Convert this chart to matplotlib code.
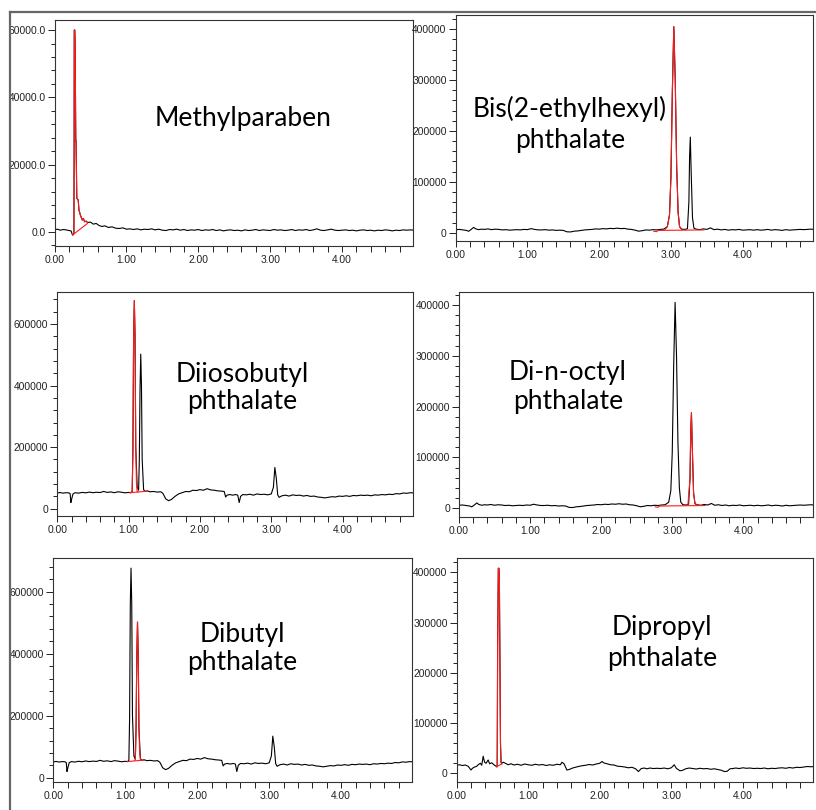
import matplotlib
matplotlib.use("Agg")
import matplotlib.pyplot as plt
from matplotlib.ticker import MultipleLocator, AutoMinorLocator, FormatStrFormatter
from matplotlib.lines import Line2D

W, H = 816, 810

# --- Methylparaben chromatogram (black trace) ---
mp_t = [0.00, 0.04, 0.08, 0.12, 0.16, 0.20, 0.23, 0.25, 0.26, 0.27, 0.273, 0.275, 0.282, 0.287,
        0.296, 0.30, 0.31, 0.33, 0.34, 0.36, 0.387, 0.40, 0.42, 0.44, 0.46, 0.50, 0.54, 0.58,
        0.62, 0.66, 0.70, 0.75, 0.80, 0.85, 0.90, 0.95, 1.00, 1.05, 1.10, 1.15, 1.20, 1.25,
        1.30, 1.35, 1.40, 1.45, 1.50, 1.55, 1.60, 1.65, 1.70, 1.75, 1.80, 1.85, 1.90, 1.95,
        2.00, 2.05, 2.10, 2.15, 2.20, 2.25, 2.30, 2.35, 2.40, 2.45, 2.50, 2.55, 2.60, 2.65,
        2.70, 2.75, 2.80, 2.85, 2.90, 2.95, 3.00, 3.05, 3.10, 3.15, 3.20, 3.25, 3.30, 3.35,
        3.40, 3.45, 3.50, 3.55, 3.60, 3.65, 3.70, 3.75, 3.80, 3.85, 3.90, 3.95, 4.00, 4.05,
        4.10, 4.15, 4.20, 4.25, 4.30, 4.35, 4.40, 4.45, 4.50, 4.55, 4.60, 4.65, 4.70, 4.75,
        4.80, 4.85, 4.90, 4.95, 5.00]
mp_y = [600, 800, 500, 700, 600, 400, 300, -900, -900, -500, 24000, 60000, 60000, 56000,
        27000, 27000, 10000, 9500, 6500, 5000, 3500, 4000, 3000, 3200, 2800, 2900, 2300, 2500,
        1900, 1600, 1800, 1300, 1500, 1100, 1000, 1200, 800, 900, 700, 900, 600, 800,
        700, 900, 600, 800, 500, 400, 700, 600, 800, 500, 700, 400, 600, 500,
        700, 400, 600, 500, 700, 400, 600, 300, 500, 600, 400, 500, 300, 600,
        400, 500, 700, 400, 600, 500, 400, 700, 500, 600, 400, 500, 700, 400,
        600, 500, 700, 400, 600, 900, 500, 400, 600, 800, 500, 400, 500, 600,
        400, 500, 300, 500, 600, 400, 500, 300, 500, 400, 600, 500, 300, 500,
        400, 600, 500, 600, 500]
# red integrated peak and its baseline
mp_red_t = [0.254, 0.27, 0.273, 0.275, 0.282, 0.287, 0.296, 0.30, 0.31, 0.33, 0.34, 0.36,
            0.387, 0.40, 0.42, 0.44, 0.457]
mp_red_y = [-900, -500, 24000, 60000, 60000, 56000, 27000, 27000, 10000, 9500, 6500, 5000,
            3500, 4000, 3000, 3200, 2800]
mp_base_t = [0.254, 0.457]
mp_base_y = [-900, 2500]

# --- phthalate chromatogram with peaks at 1.08 and 1.17 min ---
a_t = [0.00, 0.04, 0.08, 0.12, 0.16, 0.18, 0.19, 0.20, 0.22, 0.25, 0.30, 0.35, 0.40, 0.45,
       0.50, 0.55, 0.60, 0.65, 0.70, 0.75, 0.80, 0.85, 0.90, 0.95, 1.00, 1.03, 1.05, 1.06,
       1.07, 1.08, 1.09, 1.10, 1.12, 1.14, 1.15, 1.16, 1.17, 1.18, 1.19, 1.21, 1.23, 1.26,
       1.30, 1.35, 1.40, 1.45, 1.48, 1.52, 1.56, 1.60, 1.65, 1.70, 1.75, 1.80, 1.85, 1.90,
       1.95, 2.00, 2.05, 2.10, 2.15, 2.20, 2.25, 2.30, 2.34, 2.36, 2.38, 2.42, 2.46, 2.50,
       2.53, 2.55, 2.57, 2.60, 2.65, 2.70, 2.75, 2.80, 2.85, 2.90, 2.95, 3.00, 3.03, 3.05,
       3.07, 3.09, 3.11, 3.15, 3.20, 3.25, 3.30, 3.35, 3.40, 3.45, 3.50, 3.55, 3.60, 3.65,
       3.70, 3.75, 3.80, 3.85, 3.90, 3.95, 4.00, 4.05, 4.10, 4.15, 4.20, 4.25, 4.30, 4.35,
       4.40, 4.45, 4.50, 4.55, 4.60, 4.65, 4.70, 4.75, 4.80, 4.85, 4.90, 4.95, 5.00]
a_y = [51000, 52500, 50500, 52000, 51500, 49000, 20000, 30000, 48000, 52000, 50500, 53000,
       51500, 54000, 52000, 53500, 52500, 56000, 53000, 54500, 52000, 55000, 53500, 51500,
       53000, 52000, 56000, 190000, 560000, 676000, 560000, 200000, 70000, 60000, 160000,
       390000, 502000, 400000, 160000, 62000, 56000, 58000, 55000, 56000, 54000, 55000,
       50000, 32000, 26000, 30000, 40000, 48000, 52000, 56000, 55000, 60000, 59000, 62000,
       60000, 65000, 61000, 60000, 58000, 57000, 56000, 38000, 44000, 46000, 44000, 46000,
       44000, 20000, 40000, 46000, 45000, 47000, 44000, 48000, 46000, 47000, 45000, 48000,
       70000, 134000, 100000, 45000, 37000, 42000, 44000, 41000, 45000, 43000, 44000, 41000,
       43000, 40000, 41000, 38000, 37000, 35000, 37000, 39000, 38000, 41000, 40000, 42000,
       40000, 43000, 42000, 44000, 43000, 44000, 42000, 45000, 44000, 46000, 45000, 47000,
       46000, 49000, 48000, 51000, 50000, 52000, 51000]
# Diiosobutyl phthalate: first peak in red
dib_red_t = [1.02, 1.05, 1.06, 1.07, 1.08, 1.09, 1.10, 1.11, 1.12, 1.13]
dib_red_y = [52000, 55000, 190000, 560000, 676000, 560000, 200000, 80000, 56000, 54000]
dib_base_t = [1.02, 1.26]
dib_base_y = [52000, 57000]
# Dibutyl phthalate: second peak in red
dbp_red_t = [1.13, 1.14, 1.15, 1.16, 1.17, 1.18, 1.19, 1.20, 1.21]
dbp_red_y = [56000, 60000, 160000, 390000, 502000, 400000, 160000, 80000, 60000]
dbp_base_t = [1.03, 1.26]
dbp_base_y = [52000, 57000]

# --- phthalate chromatogram with peaks at 3.04 and 3.27 min ---
b_t = [0.00, 0.05, 0.10, 0.15, 0.18, 0.22, 0.25, 0.28, 0.32, 0.36, 0.40, 0.45, 0.50, 0.55,
       0.60, 0.65, 0.70, 0.75, 0.80, 0.85, 0.90, 0.95, 1.00, 1.05, 1.10, 1.15, 1.20, 1.25,
       1.30, 1.35, 1.40, 1.45, 1.50, 1.55, 1.60, 1.65, 1.70, 1.75, 1.80, 1.85, 1.90, 1.95,
       2.00, 2.05, 2.10, 2.15, 2.20, 2.25, 2.30, 2.35, 2.40, 2.45, 2.50, 2.55, 2.60, 2.65,
       2.70, 2.75, 2.80, 2.85, 2.90, 2.95, 2.98, 3.00, 3.02, 3.04, 3.06, 3.08, 3.10, 3.12,
       3.15, 3.20, 3.23, 3.25, 3.26, 3.27, 3.28, 3.30, 3.32, 3.35, 3.40, 3.45, 3.50, 3.55,
       3.60, 3.65, 3.70, 3.75, 3.80, 3.85, 3.90, 3.95, 4.00, 4.05, 4.10, 4.15, 4.20, 4.25,
       4.30, 4.35, 4.40, 4.45, 4.50, 4.55, 4.60, 4.65, 4.70, 4.75, 4.80, 4.85, 4.90, 4.95,
       5.00]
b_y = [6000, 6500, 5500, 4500, 2800, 7000, 10500, 7500, 6000, 7000, 6500, 7500, 6000, 7000,
       6500, 5500, 6000, 5000, 5500, 6000, 5500, 6500, 6000, 8000, 6500, 5500, 5500, 6000,
       5000, 5500, 4500, 5000, 4500, 1800, 1500, 3000, 3500, 4500, 5500, 6000, 6500, 7500,
       7000, 8000, 7500, 8500, 8000, 9000, 8000, 8500, 7000, 6500, 5000, 3000, 4000, 5500,
       5000, 6000, 5500, 6500, 7000, 12000, 35000, 110000, 280000, 405000, 300000, 130000,
       40000, 12000, 7000, 6500, 8000, 60000, 150000, 188000, 130000, 30000, 9000, 7000,
       6000, 7500, 6500, 9500, 6000, 7000, 5500, 6500, 5000, 6000, 5500, 6500, 5000, 5500,
       6000, 5000, 6000, 5000, 5500, 6500, 5000, 6000, 5500, 4500, 6000, 5000, 5500, 6000,
       6500, 6000, 6500, 7000, 6500]
# Bis(2-ethylhexyl) phthalate: first peak in red
deh_red_t = [2.92, 2.95, 2.98, 3.00, 3.02, 3.04, 3.06, 3.08, 3.10, 3.12, 3.15]
deh_red_y = [6500, 12000, 35000, 110000, 280000, 405000, 300000, 130000, 40000, 12000, 6000]
# Di-n-octyl phthalate: second peak in red
dno_red_t = [3.22, 3.25, 3.26, 3.27, 3.28, 3.30, 3.32, 3.35]
dno_red_y = [6500, 60000, 150000, 188000, 130000, 30000, 9000, 6000]
b_base_t = [2.76, 2.80, 2.82, 3.46]
b_base_y = [3000, 2000, 4500, 5500]

# --- Dipropyl phthalate chromatogram ---
d_t = [0.00, 0.04, 0.08, 0.12, 0.16, 0.20, 0.22, 0.25, 0.28, 0.30, 0.33, 0.35, 0.37, 0.39,
       0.41, 0.44, 0.46, 0.49, 0.52, 0.55, 0.565, 0.572, 0.582, 0.59, 0.596, 0.605, 0.612,
       0.62, 0.63, 0.65, 0.68, 0.72, 0.76, 0.80, 0.85, 0.90, 0.95, 1.00, 1.05, 1.10, 1.15,
       1.20, 1.25, 1.30, 1.35, 1.40, 1.45, 1.47, 1.50, 1.54, 1.58, 1.62, 1.66, 1.70, 1.75,
       1.80, 1.85, 1.90, 1.95, 2.00, 2.03, 2.06, 2.10, 2.15, 2.20, 2.25, 2.30, 2.35, 2.40,
       2.45, 2.50, 2.54, 2.58, 2.62, 2.66, 2.70, 2.75, 2.80, 2.85, 2.90, 2.95, 3.00, 3.04,
       3.07, 3.12, 3.16, 3.20, 3.25, 3.30, 3.35, 3.40, 3.45, 3.50, 3.55, 3.60, 3.65, 3.70,
       3.74, 3.78, 3.82, 3.86, 3.90, 3.95, 4.00, 4.05, 4.10, 4.15, 4.20, 4.25, 4.30, 4.35,
       4.40, 4.45, 4.50, 4.55, 4.60, 4.65, 4.70, 4.75, 4.80, 4.85, 4.90, 4.95, 5.00]
d_y = [16000, 17000, 15500, 16500, 14000, 6500, 10000, 12500, 14000, 17000, 20000, 16000,
       34000, 22000, 20000, 26500, 19000, 21000, 17000, 14000, 13000, 252000, 408000, 408000,
       395000, 212000, 60000, 22000, 20000, 22000, 20000, 17000, 19000, 16500, 18000, 16000,
       18500, 17000, 16000, 18000, 16500, 17500, 15500, 17000, 16000, 18000, 17000, 22000,
       19000, 6500, 8000, 10500, 12000, 13500, 15000, 16000, 17500, 16500, 18500, 20000,
       23500, 20500, 19000, 17000, 16500, 14000, 13500, 12500, 11000, 12000, 9000, 3500,
       9500, 10500, 9000, 10500, 9500, 10000, 9500, 10500, 9000, 11000, 17000, 10000, 5000,
       6000, 9000, 10500, 9500, 8500, 10000, 9000, 9500, 8000, 9000, 7500, 6000, 3500, 4000,
       9000, 9500, 10500, 9500, 11000, 10000, 10500, 9500, 10000, 9500, 10500, 9000, 10000,
       9500, 10500, 11000, 10000, 11500, 10500, 12000, 11500, 12500, 13500, 13000, 13500]
dpp_red_t = [0.56, 0.569, 0.572, 0.582, 0.59, 0.596, 0.605, 0.612, 0.62, 0.63]
dpp_red_y = [13000, 14000, 252000, 408000, 408000, 395000, 212000, 60000, 22000, 18000]
dpp_base_t = [0.56, 0.63]
dpp_base_y = [13000, 19000]

# panel layout in pixels: left, top, right, bottom
panels = [
    dict(box=(54.5, 20, 412.5, 246), ylim=(-4200, 63000), ystep=20000, yfmt="%.1f",
         t=mp_t, y=mp_y, red=[(mp_red_t, mp_red_y), (mp_base_t, mp_base_y)],
         names=["Methylparaben"], tx=243, ty=[125.7], zero_x=False),
    dict(box=(455.7, 15, 813, 241), ylim=(-16300, 428000), ystep=100000, yfmt="%d",
         t=b_t, y=b_y, red=[(deh_red_t, deh_red_y), (b_base_t, b_base_y)],
         names=["Bis(2-ethylhexyl)", "phthalate"], tx=570, ty=[116.7, 148.3], zero_x=True),
    dict(box=(57.3, 291.7, 412.5, 516), ylim=(-23700, 705000), ystep=200000, yfmt="%d",
         t=a_t, y=a_y, red=[(dib_red_t, dib_red_y), (dib_base_t, dib_base_y)],
         names=["Diiosobutyl", "phthalate"], tx=242, ty=[381.7, 409.5], zero_x=True),
    dict(box=(459, 291.7, 813, 516.7), ylim=(-16500, 426000), ystep=100000, yfmt="%d",
         t=b_t, y=b_y, red=[(dno_red_t, dno_red_y), (b_base_t, b_base_y)],
         names=["Di-n-octyl", "phthalate"], tx=568, ty=[380, 408.5], zero_x=True),
    dict(box=(53.3, 558.3, 411.7, 782.3), ylim=(-14800, 707700), ystep=200000, yfmt="%d",
         t=a_t, y=a_y, red=[(dbp_red_t, dbp_red_y), (dbp_base_t, dbp_base_y)],
         names=["Dibutyl", "phthalate"], tx=242, ty=[641.7, 670], zero_x=True),
    dict(box=(456.7, 558.3, 813, 782.3), ylim=(-17900, 427900), ystep=100000, yfmt="%d",
         t=d_t, y=d_y, red=[(dpp_red_t, dpp_red_y), (dpp_base_t, dpp_base_y)],
         names=["Dipropyl", "phthalate"], tx=662, ty=[635, 666], zero_x=True),
]

tick_font = ["Liberation Sans Narrow", "Liberation Sans"]

fig = plt.figure(figsize=(W / 100, H / 100), dpi=100)

for p in panels:
    l, t, r, b = p["box"]
    ax = fig.add_axes([l / W, 1 - b / H, (r - l) / W, (b - t) / H])
    ax.plot(p["t"], p["y"], color="black", lw=0.8)
    for rt, ry in p["red"]:
        ax.plot(rt, ry, color="#ff1a1a", lw=0.8)
    # axis stops just short of 5 min, so no 5.00 label
    ax.set_xlim(0, 4.98)
    ax.set_ylim(*p["ylim"])
    ax.xaxis.set_major_locator(MultipleLocator(1.0))
    ax.xaxis.set_minor_locator(MultipleLocator(0.2))
    ax.xaxis.set_major_formatter(FormatStrFormatter("%.2f"))
    ax.yaxis.set_major_locator(MultipleLocator(p["ystep"]))
    ax.yaxis.set_minor_locator(AutoMinorLocator(5))
    ax.yaxis.set_major_formatter(FormatStrFormatter(p["yfmt"]))
    ax.tick_params(axis="x", which="both", direction="out", length=4, width=0.7,
                   pad=2.5, labelsize=7.4, colors="#222222")
    ax.tick_params(axis="y", which="major", direction="out", length=5, width=0.7,
                   pad=1.5, labelsize=7.4, colors="#222222")
    ax.tick_params(axis="y", which="minor", direction="out", length=3, width=0.6)
    for lab in ax.get_xticklabels() + ax.get_yticklabels():
        lab.set_family(tick_font)
    if not p["zero_x"]:
        ax.get_xticklabels()[0].set_visible(False)
    for s in ax.spines.values():
        s.set_linewidth(0.8)
        s.set_color("#333333")
    for name, yb in zip(p["names"], p["ty"]):
        fig.text(p["tx"] / W, 1 - yb / H, name, ha="center", va="baseline",
                 fontsize=19, family="Lato", color="black")

# grey frame around the figure
fig.add_artist(Line2D([10 / W, 10 / W], [0, 1 - 12 / H], color="#666666", lw=1.6))
fig.add_artist(Line2D([10 / W, 1], [1 - 12 / H, 1 - 12 / H], color="#666666", lw=1.6))

fig.savefig("out.png", dpi=100)
